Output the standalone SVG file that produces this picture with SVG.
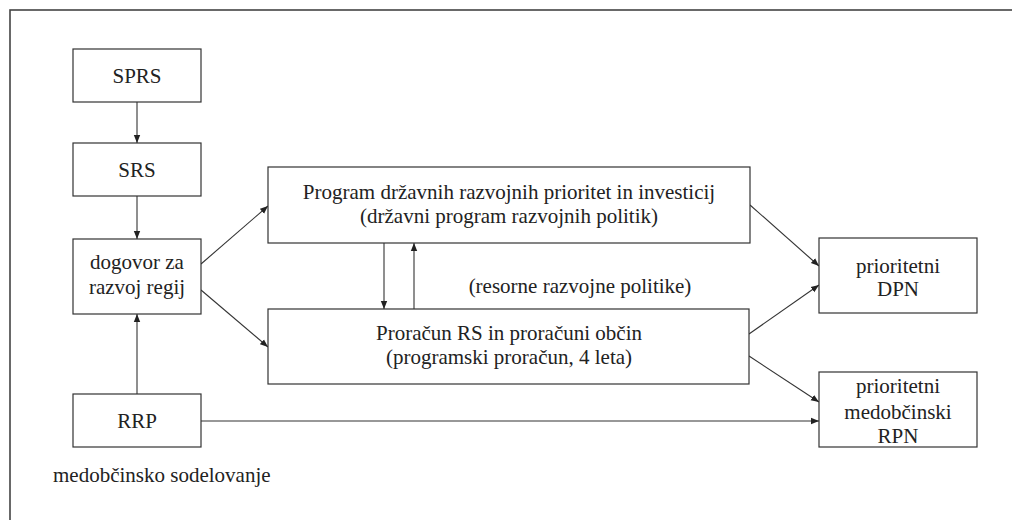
<svg xmlns="http://www.w3.org/2000/svg" width="1012" height="520" viewBox="0 0 1012 520">
<defs>
<marker id="ah" viewBox="0 0 10 10" refX="10" refY="5" markerWidth="8" markerHeight="8" markerUnits="userSpaceOnUse" orient="auto">
<path d="M0,1 L10,5 L0,9 z" fill="#222"/>
</marker>
<style>
.box{fill:#fff;stroke:#333;stroke-width:1.2}
.t{font-family:"Liberation Serif","Times New Roman",serif;font-size:21px;fill:#222;text-anchor:middle}
.c{stroke:#333;stroke-width:1.1;fill:none;marker-end:url(#ah)}
</style>
</defs>
<rect width="1012" height="520" fill="#fff"/>
<rect x="10" y="10" width="1100" height="600" fill="none" stroke="#444" stroke-width="1.6"/>
<g id="connectors">
<line class="c" x1="137" y1="102" x2="137" y2="143"/>
<line class="c" x1="137" y1="196" x2="137" y2="239"/>
<line class="c" x1="137" y1="394" x2="137" y2="314"/>
<line class="c" x1="201" y1="264" x2="268" y2="206"/>
<line class="c" x1="201" y1="290" x2="268" y2="347"/>
<line class="c" x1="384" y1="243" x2="384" y2="309"/>
<line class="c" x1="414" y1="309" x2="414" y2="243"/>
<line class="c" x1="750" y1="205" x2="819" y2="266"/>
<line class="c" x1="749" y1="334" x2="819" y2="285"/>
<line class="c" x1="749" y1="356" x2="819" y2="402"/>
<line class="c" x1="201" y1="421" x2="819" y2="421"/>
</g>
<g id="sprs"><rect class="box" x="73" y="49" width="128" height="53"/><text class="t" x="137" y="83">SPRS</text></g>
<g id="srs"><rect class="box" x="73" y="143" width="128" height="53"/><text class="t" x="137" y="177">SRS</text></g>
<g id="dogovor"><rect class="box" x="73" y="239" width="128" height="75"/><text class="t" x="137" y="269">dogovor za</text><text class="t" x="137" y="294">razvoj regij</text></g>
<g id="rrp"><rect class="box" x="73" y="394" width="128" height="53"/><text class="t" x="137" y="428">RRP</text></g>
<g id="program"><rect class="box" x="268" y="167" width="482" height="76"/><text class="t" x="509" y="199">Program državnih razvojnih prioritet in investicij</text><text class="t" x="509" y="223">(državni program razvojnih politik)</text></g>
<g id="proracun"><rect class="box" x="268" y="309" width="481" height="75"/><text class="t" x="509" y="340">Proračun RS in proračuni občin</text><text class="t" x="509" y="364">(programski proračun, 4 leta)</text></g>
<g id="dpn"><rect class="box" x="819" y="238" width="158" height="75"/><text class="t" x="898" y="273">prioritetni</text><text class="t" x="898" y="296">DPN</text></g>
<g id="rpn"><rect class="box" x="819" y="372" width="158" height="75"/><text class="t" x="898" y="393">prioritetni</text><text class="t" x="898" y="419">medobčinski</text><text class="t" x="898" y="443">RPN</text></g>
<g id="labels">
<text class="t" x="580" y="293">(resorne razvojne politike)</text>
<text class="t" x="53" y="482" style="text-anchor:start">medobčinsko sodelovanje</text>
</g>
</svg>
